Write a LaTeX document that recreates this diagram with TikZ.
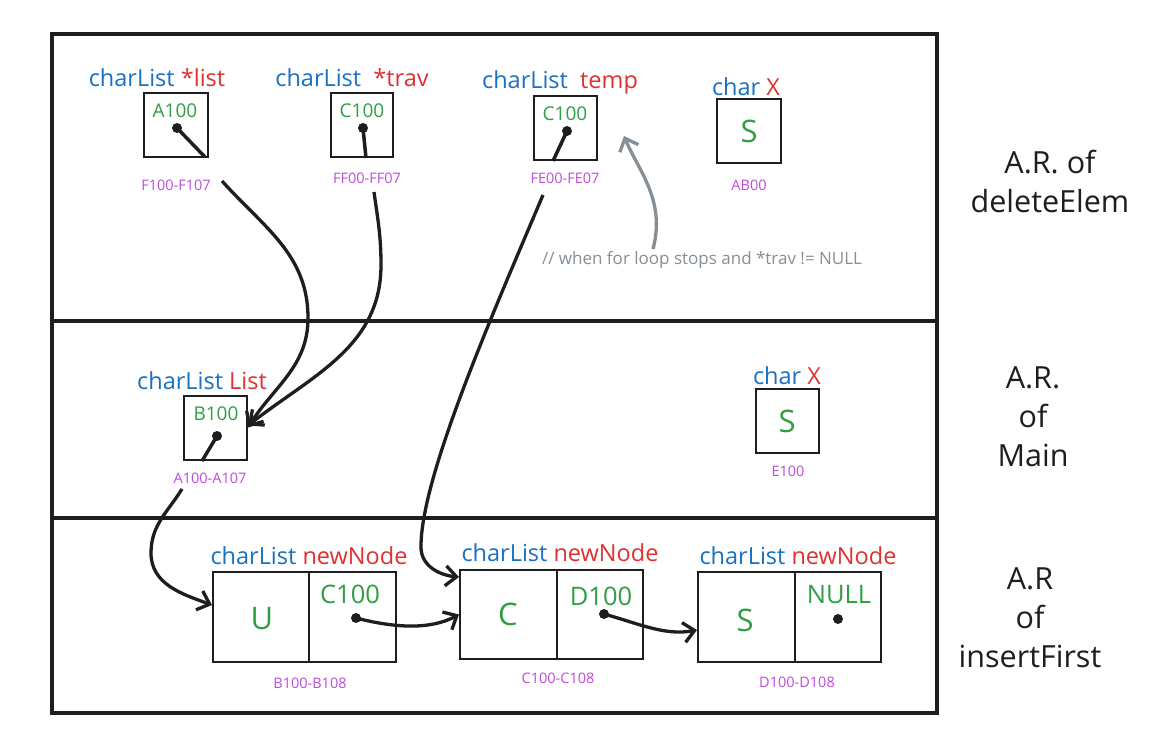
\documentclass[tikz,border=0pt]{standalone}
\usepackage{fontspec}
\setmainfont{Open Sans}
\usetikzlibrary{arrows.meta,calc}
\definecolor{cblue}{HTML}{1971C2}
\definecolor{cred}{HTML}{E03131}
\definecolor{cgreen}{HTML}{2F9E44}
\definecolor{cmag}{HTML}{BE4BDB}
\definecolor{cgray}{HTML}{868E96}
\definecolor{cink}{HTML}{1E1E1E}
\begin{document}
\begin{tikzpicture}[x=1pt,y=1pt,
  frame/.style={draw=cink,line width=3.5pt},
  cell/.style={draw=cink,line width=2pt,inner sep=0pt,minimum width=#1,minimum height=64pt},
  cell/.default=64pt,
  lcell/.style={draw=cink,line width=2pt,inner sep=0pt,minimum width=#1,minimum height=90pt},
  lbl/.style={font=\fontsize{23.5}{28}\selectfont,inner sep=0pt},
  val/.style={text=cgreen,font=\fontsize{19}{22}\selectfont,inner sep=0pt},
  bval/.style={text=cgreen,font=\fontsize{25.5}{30}\selectfont,inner sep=0pt},
  big/.style={text=cgreen,font=\fontsize{31}{36}\selectfont,inner sep=0pt},
  addr/.style={text=cmag,font=\fontsize{14.5}{17}\selectfont,inner sep=0pt},
  ar/.style={text=cink,font=\fontsize{30.5}{39}\selectfont,align=center,inner sep=0pt},
  note/.style={text=cgray,font=\fontsize{17}{20}\selectfont,inner sep=0pt},
  dotc/.style={circle,fill=cink,inner sep=0pt,minimum size=10pt},
  stub/.style={draw=cink,line width=3.5pt},
  link/.style={draw=cink,line width=3.3pt,-{Straight Barb[length=11pt,width=20pt,line width=3.3pt]}},
  glink/.style={draw=cgray,line width=3.3pt,-{Straight Barb[length=11pt,width=20pt,line width=3.3pt]}}
]
\useasboundingbox (0,0) rectangle (1161,-752);
\fill[white] (0,0) rectangle (1161,-752);

% frames
\draw[frame] (52,-34) rectangle (937,-713);
\draw[frame] (52,-321) -- (937,-321);
\draw[frame] (52,-518) -- (937,-518);

% ---- A.R. of deleteElem ----
\node[lbl] (tlist) at (157,-78) {\color{cblue}charList \color{cred}*list};
\node[cell] (blist) at (176,-125) {};
\node[val] (vlist) at (175,-111) {A100};
\node[dotc] (dlist) at (177,-128) {};
\coordinate (elist) at (205,-157);
\node[addr] (alist) at (176,-185) {F100-F107};

\node[lbl] (ttrav) at (352,-78) {\color{cblue}charList~~\color{cred}*trav};
\node[cell=62pt] (btrav) at (362,-125) {};
\node[val] (vtrav) at (362,-111) {C100};
\node[dotc] (dtrav) at (363,-128) {};
\coordinate (etrav) at (366,-158);
\node[addr] (atrav) at (367,-178) {FF00-FF07};

\node[lbl] (ttemp) at (560,-82) {\color{cblue}charList~~\color{cred}temp};
\node[cell=63pt] (btemp) at (565.5,-128) {};
\node[val] (vtemp) at (565,-114) {C100};
\node[dotc] (dtemp) at (567,-131) {};
\coordinate (etemp) at (553,-161);
\node[addr] (atemp) at (565,-178) {FE00-FE07};

\node[lbl] (tx1) at (746,-87) {\color{cblue}char \color{cred}X};
\node[cell] (bx1) at (749,-130.5) {};
\node[big] (vx1) at (749,-131) {S};
\node[addr] (ax1) at (749,-185) {AB00};

\node[note] (note) at (702,-260) {// when for loop stops and *trav != NULL};
\coordinate (g0) at (653,-249);
\coordinate (g1) at (624,-136);

\node[ar] (ar1) at (1050,-181) {A.R. of\\deleteElem};

% ---- A.R. of Main ----
\node[lbl] (tL) at (202,-381) {\color{cblue}charList \color{cred}List};
\node[cell=63pt] (bL) at (215.5,-427.5) {};
\node[val] (vL) at (216,-414) {B100};
\node[dotc] (dL) at (217,-436) {};
\coordinate (eL) at (202,-461);
\node[addr] (aL) at (210,-478) {A100-A107};

\node[lbl] (tx2) at (787,-376) {\color{cblue}char \color{cred}X};
\node[cell=63pt] (bx2) at (787.5,-420.5) {};
\node[big] (vx2) at (787,-421) {S};
\node[addr] (ax2) at (788,-471) {E100};

\node[ar] (ar2) at (1033,-417) {A.R.\\of\\Main};

% ---- A.R of insertFirst ----
\node[lbl] (tn1) at (309,-556) {\color{cblue}charList \color{cred}newNode};
\node[lcell=96pt] (n1d) at (261,-617) {};
\node[lcell=87pt] (n1n) at (352.5,-617) {};
\node[big] (u1) at (262,-619) {U};
\node[bval] (p1) at (350,-594) {C100};
\node[dotc] (d1) at (356,-618) {};
\node[addr] (a1) at (310,-683) {B100-B108};

\node[lbl] (tn2) at (560,-553) {\color{cblue}charList \color{cred}newNode};
\node[lcell=97pt,minimum height=89pt] (n2d) at (508.5,-614.5) {};
\node[lcell=86pt,minimum height=89pt] (n2n) at (600,-614.5) {};
\node[big] (u2) at (508,-614) {C};
\node[bval] (p2) at (601,-596) {D100};
\node[dotc] (d2) at (604,-614) {};
\node[addr] (a2) at (558,-678) {C100-C108};

\node[lbl] (tn3) at (798,-556) {\color{cblue}charList \color{cred}newNode};
\node[lcell=97pt] (n3d) at (746.5,-617) {};
\node[lcell=86pt] (n3n) at (838,-617) {};
\node[big] (u3) at (745,-620) {S};
\node[bval] (p3) at (839,-595) {NULL};
\node[dotc] (d3) at (838,-619) {};
\node[addr] (a3) at (797,-682) {D100-D108};

\node[ar] (ar3) at (1030,-618) {A.R\\of\\insertFirst};

% ---- pointer stubs ----
\draw[stub] (dlist.center) -- (elist);
\draw[stub] (dtrav.center) -- (etrav);
\draw[stub] (dtemp.center) -- (etemp);
\draw[stub] (dL.center) -- (eL);

% ---- connectors ----
\coordinate (s1) at (222,-181);
\coordinate (s2) at (374,-192);
\coordinate (s3) at (543,-195);
\coordinate (s4) at (182,-489);
\draw[link] (s1) to[out=-48,in=90] (308,-318) to[out=-90,in=58] (bL.east);
\draw[link] (s2) to[out=-82,in=90] (381,-265) to[out=-90,in=38] ([yshift=2pt]bL.east);
\draw[link] (s3) .. controls (490,-320) and (420,-480) .. (421,-548) to[out=-88,in=175] ([yshift=-8pt]n2d.north west);
\draw[link] (s4) to[out=-122,in=90] (151,-553) to[out=-90,in=160] ([yshift=-34pt]n1d.north west);
\draw[link] (d1.center) .. controls (395,-628) and (430,-630) .. (n2d.west);
\draw[link] (d2.center) .. controls (640,-624) and (665,-636) .. ([yshift=-13pt]n3d.west);
\draw[glink] (g0) .. controls (666,-200) and (638,-170) .. (g1);
\end{tikzpicture}
\end{document}
